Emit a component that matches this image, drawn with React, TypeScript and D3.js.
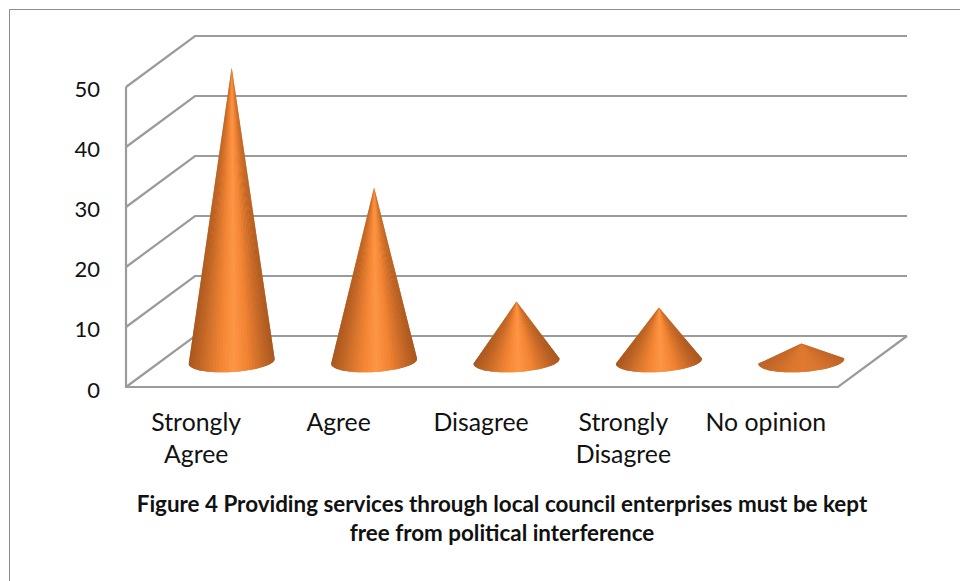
import React from "react";
import * as d3 from "d3";

const categories = [["Strongly", "Agree"], ["Agree"], ["Disagree"], ["Strongly", "Disagree"], ["No opinion"]];
const values = [49, 29, 10, 9, 3];
const ticks = [0, 10, 20, 30, 40, 50];
const titleLines = [
  "Figure 4 Providing services through local council enterprises must be kept",
  "free from political interference",
];
const shadeStops = [0, 0.2, 0.38, 0.52, 0.68, 0.86, 1];
const shadeColors = ["#a9581f", "#d0702b", "#f58634", "#fc9645", "#f28433", "#c66928", "#a9581f"];
const flatColors = ["#bd6429", "#cf6f2c", "#dc772f", "#e07a30", "#dc772f", "#cf6f2c", "#bd6429"];

const W = 960;
const H = 581;
const depthX = 69;
const depthY = -51;
const x = d3.scaleBand<number>().domain(d3.range(5)).range([126, 838]);
const y = d3.scaleLinear().domain([0, 50]).range([387, 87]);
const shade = d3.scaleLinear<string>().domain(shadeStops).range(shadeColors);
const flatShade = d3.scaleLinear<string>().domain(shadeStops).range(flatColors);
const FONT = "Lato, 'Open Sans', sans-serif";
const GRID = "#9b9b9b";
const WEDGES = 40;

// Lower arc of a cone's tilted elliptical base, running right to left.
function baseArc(cx: number, cy: number): [number, number][] {
  const rx = 43;
  const ry = 10.5;
  const tilt = (-3.5 * Math.PI) / 180;
  return d3.range(WEDGES + 1).map((i) => {
    const a = -0.05 + ((Math.PI + 0.1) * i) / WEDGES;
    const ex = rx * Math.cos(a);
    const ey = ry * Math.sin(a);
    return [cx + ex * Math.cos(tilt) - ey * Math.sin(tilt), cy + ex * Math.sin(tilt) + ey * Math.cos(tilt)];
  });
}

// A cone is a fan of wedges from the apex, so its shading converges at the tip.
// The solid outline underneath hides the hairline seams between wedges.
function Cone({ id, cx, cy, apexY, flat }: { id: string; cx: number; cy: number; apexY: number; flat: boolean }) {
  const arc = baseArc(cx, cy);
  const scale = flat ? flatShade : shade;
  const u = d3.scaleLinear().domain(d3.extent(arc, (p) => p[0]) as [number, number]).range([0, 1]);
  const line = d3.line();
  return (
    <g>
      <linearGradient id={id} x1="0" x2="1" y1="0" y2="0">
        {shadeStops.map((s) => (
          <stop key={s} offset={s} stopColor={scale(s)} />
        ))}
      </linearGradient>
      <path d={line([[cx, apexY], ...arc])! + "Z"} fill={`url(#${id})`} />
      {arc.slice(1).map((p, i) => (
        <path key={i} d={line([[cx, apexY], arc[i], p])! + "Z"} fill={scale(u((p[0] + arc[i][0]) / 2))} />
      ))}
    </g>
  );
}

export default function App() {
  const backX = 126 + depthX;
  const midX = depthX / 2;
  const midY = depthY / 2;
  return (
    <svg width={W} height={H} style={{ position: "absolute", left: 0, top: 0, background: "#fff" }}>
      <path d="M9.5,581V9.5H960" fill="none" stroke="#8c8c8c" strokeWidth={1} />

      {/* Walls and floor of the 3-D plot box */}
      {ticks.map((t) => (
        <path
          key={t}
          d={`M126,${y(t)}L${backX},${y(t) + depthY}H907`}
          fill="none"
          stroke={GRID}
          strokeWidth={2.2}
        />
      ))}
      <path d={`M126,${y(50)}V${y(0)}H838L907,${y(0) + depthY}`} fill="none" stroke={GRID} strokeWidth={2.2} />

      {ticks.map((t) => (
        <text key={t} x={100} y={y(t) + (t === 0 ? 11 : 10)} textAnchor="end" fontFamily={FONT} fontSize={22} fill="#111">
          {t}
        </text>
      ))}

      {values.map((v, i) => (
        <Cone
          key={i}
          id={`cone-${i}`}
          cx={x(i)! + x.bandwidth() / 2 + midX}
          cy={y(0) + midY}
          apexY={y(v) + midY}
          flat={v < 5}
        />
      ))}

      {categories.map((lines, i) =>
        lines.map((l, j) => (
          <text
            key={l}
            x={x(i)! + x.bandwidth() / 2 - 1}
            y={431 + j * 32}
            textAnchor="middle"
            fontFamily={FONT}
            fontSize={24.8}
            fill="#111"
          >
            {l}
          </text>
        ))
      )}

      {titleLines.map((l, j) => (
        <text
          key={l}
          x={502}
          y={512 + j * 29}
          textAnchor="middle"
          fontFamily={FONT}
          fontSize={22.4}
          fontWeight={700}
          fill="#111"
        >
          {l}
        </text>
      ))}
    </svg>
  );
}
